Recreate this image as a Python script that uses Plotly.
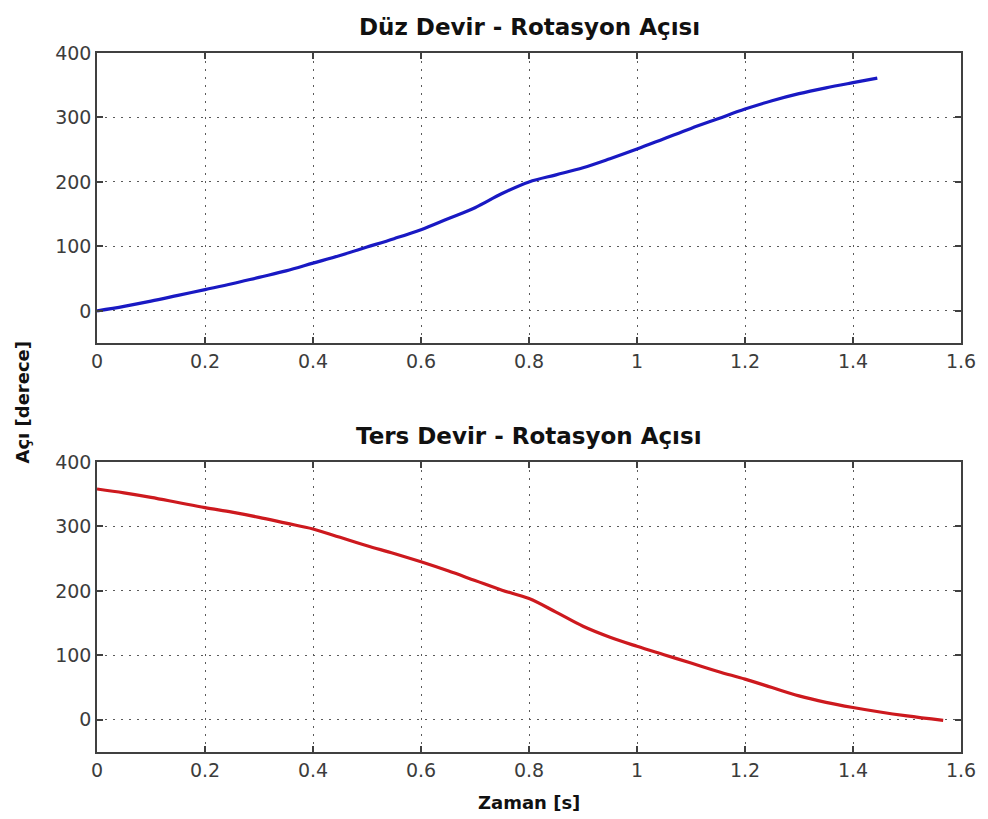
import plotly.graph_objects as go
from plotly.subplots import make_subplots

# Düz devir (forward rotation): time [s] and angle [degree]
t_duz = [0.0, 0.05, 0.1, 0.15, 0.2, 0.25, 0.3, 0.35, 0.4, 0.45, 0.5, 0.55, 0.6, 0.65,
         0.7, 0.75, 0.8, 0.85, 0.9, 0.95, 1.0, 1.05, 1.1, 1.15, 1.2, 1.25, 1.3, 1.35,
         1.4, 1.445]
aci_duz = [0, 7, 15, 24, 33, 42, 52, 62, 74, 86, 99, 112, 126, 143,
           160, 182, 200, 211, 222, 236, 251, 267, 283, 298, 313, 326, 337, 346,
           354, 361]

# Ters devir (reverse rotation)
t_ters = [0.0, 0.05, 0.1, 0.15, 0.2, 0.25, 0.3, 0.35, 0.4, 0.45, 0.5, 0.55, 0.6, 0.65,
          0.7, 0.75, 0.8, 0.85, 0.9, 0.95, 1.0, 1.05, 1.1, 1.15, 1.2, 1.25, 1.3, 1.35,
          1.4, 1.45, 1.5, 1.567]
aci_ters = [358, 352, 345, 337, 329, 322, 314, 305, 296, 283, 270, 258, 245, 231,
            216, 201, 188, 167, 145, 128, 114, 101, 88, 75, 63, 50, 37, 27,
            19, 12, 6, -1]

x_ticks = [0, 0.2, 0.4, 0.6, 0.8, 1.0, 1.2, 1.4, 1.6]
x_tick_text = ["0", "0.2", "0.4", "0.6", "0.8", "1", "1.2", "1.4", "1.6"]
y_ticks = [0, 100, 200, 300, 400]

fig = make_subplots(rows=2, cols=1, vertical_spacing=0.17)

fig.add_trace(go.Scatter(x=t_duz, y=aci_duz, mode="lines",
                         line=dict(color="rgb(25,25,195)", width=3.2),
                         line_shape="spline", showlegend=False), row=1, col=1)
fig.add_trace(go.Scatter(x=t_ters, y=aci_ters, mode="lines",
                         line=dict(color="rgb(205,25,30)", width=3.2),
                         line_shape="spline", showlegend=False), row=2, col=1)

tick_font = dict(family="DejaVu Sans, sans-serif", size=19, color="#3c3c3c")
axis_common = dict(
    showline=True, linecolor="#404040", linewidth=1.6, mirror="ticks",
    ticks="inside", ticklen=6, tickwidth=1.6, tickcolor="#404040",
    showgrid=True, gridcolor="#5a5a5a", gridwidth=1, griddash="2px,6px",
    zeroline=False, tickfont=tick_font, ticklabeloverflow="allow",
)

for r in (1, 2):
    fig.update_xaxes(range=[0, 1.6], tickvals=x_ticks, ticktext=x_tick_text,
                     row=r, col=1, **axis_common)
    fig.update_yaxes(range=[-50, 400], tickvals=y_ticks, row=r, col=1, **axis_common)

fig.update_yaxes(domain=[0.585, 1.0], row=1, col=1)
fig.update_yaxes(domain=[0.0, 0.415], row=2, col=1)

title_font = dict(family="DejaVu Sans, sans-serif", size=23, color="#111111")
label_font = dict(family="DejaVu Sans, sans-serif", size=18, color="#111111")

fig.update_layout(
    width=988, height=819,
    margin=dict(l=97, r=19, t=53, b=67),
    plot_bgcolor="white", paper_bgcolor="white",
    annotations=[
        dict(text="<b>Düz Devir - Rotasyon Açısı</b>", x=0.5, xref="paper",
             y=1.0, yref="paper", yshift=26, showarrow=False,
             xanchor="center", yanchor="middle", font=title_font),
        dict(text="<b>Ters Devir - Rotasyon Açısı</b>", x=0.5, xref="paper",
             y=0.415, yref="paper", yshift=26, showarrow=False,
             xanchor="center", yanchor="middle", font=title_font),
        dict(text="<b>Zaman [s]</b>", x=0.5, xref="paper",
             y=0.0, yref="paper", yshift=-50, showarrow=False,
             xanchor="center", yanchor="middle", font=label_font),
        dict(text="<b>Açı [derece]</b>", x=0.0, xref="paper", xshift=-75,
             y=0.5, yref="paper", yshift=0, showarrow=False, textangle=-90,
             xanchor="center", yanchor="middle", font=label_font),
    ],
)

fig.write_html("out.html")
